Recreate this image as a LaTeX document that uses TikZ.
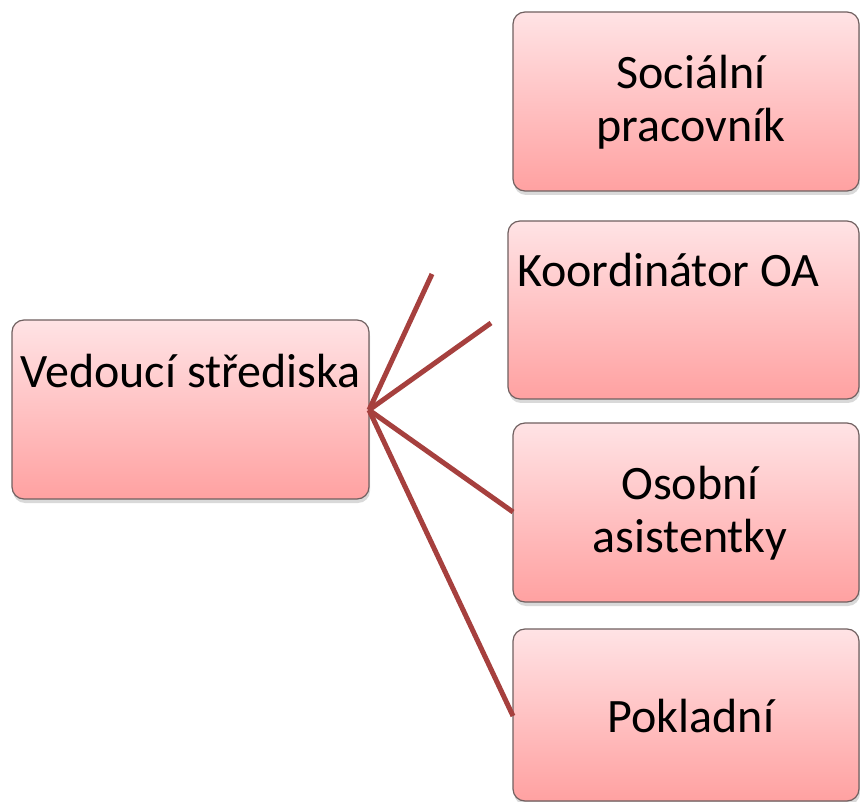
\documentclass[tikz,border=0pt]{standalone}
\usepackage{fontspec}
\setmainfont{Carlito}
\usetikzlibrary{shadows}
\definecolor{boxtop}{RGB}{255,227,229}
\definecolor{boxbot}{RGB}{255,161,161}
\definecolor{boxline}{RGB}{112,96,96}
\definecolor{conn}{RGB}{166,64,62}
\tikzset{
  orgbox/.style={draw=boxline, line width=1.2pt, rounded corners=12pt,
    top color=boxtop, bottom color=boxbot,
    drop shadow={opacity=0.3, shadow xshift=1pt, shadow yshift=-4pt}},
  lbl/.style={inner sep=0pt, anchor=base, font=\fontsize{48}{58}\selectfont},
  connector/.style={draw=conn, line width=5pt}
}
\begin{document}
\begin{tikzpicture}[x=1pt,y=-1pt]
\useasboundingbox (0,0) rectangle (860,802);
% boxes
\path[orgbox] (12,320) rectangle (369,499);
\coordinate (lead-east) at (369,410);
\path[orgbox] (513,12) rectangle (859,191);
\path[orgbox] (508,221) rectangle (859,399);
\path[orgbox] (513,423) rectangle (859,602);
\path[orgbox] (513,629) rectangle (859,801);
\coordinate (b3-west) at (513,512);
\coordinate (b4-west) at (513,716);
\coordinate (free1) at (432,274);
\coordinate (free2) at (491,323);
% connectors
\draw[connector] (lead-east) -- (free1);
\draw[connector] (lead-east) -- (free2);
\draw[connector] (lead-east) -- (b3-west);
\draw[connector] (lead-east) -- (b4-west);
% texts
\node[lbl] (t-lead) at (190.5,388) {Vedoucí střediska};
\node[lbl] (t-b1a) at (691,89) {Sociální};
\node[lbl] (t-b1b) at (691,142) {pracovník};
\node[lbl, anchor=base west] (t-b2) at (517,287) {Koordinátor OA};
\node[lbl] (t-b3a) at (690,499) {Osobní};
\node[lbl] (t-b3b) at (690,552) {asistentky};
\node[lbl] (t-b4) at (691,732) {Pokladní};
\end{tikzpicture}
\end{document}
